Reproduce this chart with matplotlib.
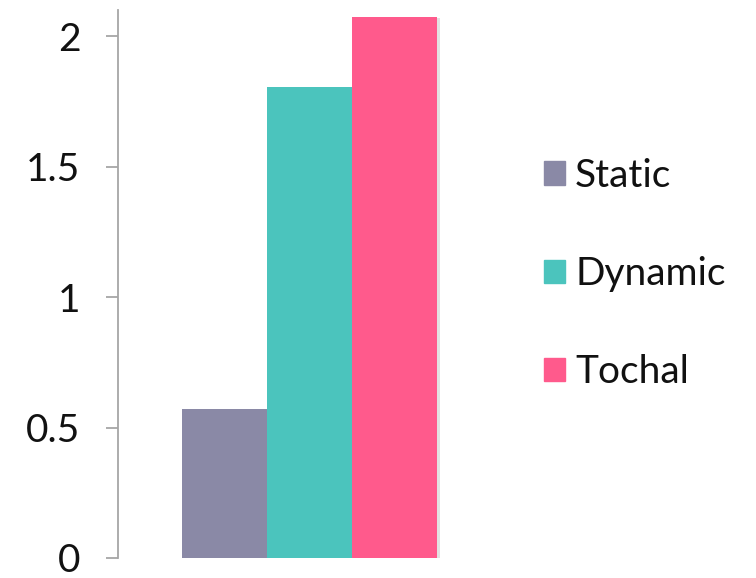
import numpy as np
import matplotlib
matplotlib.use("Agg")
import matplotlib.pyplot as plt
import matplotlib.patheffects as pe
from matplotlib.patches import Patch

# Data
series = ["Static", "Dynamic", "Tochal"]
values = [0.571, 1.805, 2.074]
colors = ["#8A89A6", "#4BC4BD", "#FF5A8C"]
yticks = [0, 0.5, 1, 1.5, 2]
yticklabels = ["0", "0.5", "1", "1.5", "2"]

plt.rcParams["font.family"] = ["Lato", "DejaVu Sans"]

fig = plt.figure(figsize=(7.56, 5.78), dpi=100)
ax = fig.add_axes([118 / 756, 20 / 578, 383 / 756, 548 / 578])

w = 0.222
offsets = (np.arange(len(series)) - 1) * w
shadow = [pe.SimplePatchShadow(offset=(2, -1), shadow_rgbFace="#d0d0d0", alpha=0.6),
          pe.Normal()]
for off, v, c in zip(offsets, values, colors):
    ax.bar(off, v, width=w, color=c, zorder=3, path_effects=shadow)

ax.set_xlim(-0.5, 0.5)
ax.set_ylim(0, 2.1)
ax.set_yticks(yticks)
ax.set_yticklabels(yticklabels)
ax.set_xticks([])

for s in ["top", "right", "bottom"]:
    ax.spines[s].set_visible(False)
ax.spines["left"].set_color("#a6a6a6")
ax.spines["left"].set_linewidth(1.3)
ax.tick_params(axis="y", length=9, width=1.3, color="#a6a6a6", pad=18,
               labelsize=28, labelcolor="#111111")

handles = [Patch(color=c, label=name) for c, name in zip(colors, series)]
fig.legend(handles=handles, loc="center left",
           bbox_to_anchor=(544 / 756, 1 - 274 / 578),
           frameon=False, fontsize=28, labelcolor="#111111",
           handlelength=0.55, handleheight=0.55,
           handletextpad=0.25, labelspacing=1.6, borderpad=0, borderaxespad=0)

fig.savefig("out.png", dpi=100)
